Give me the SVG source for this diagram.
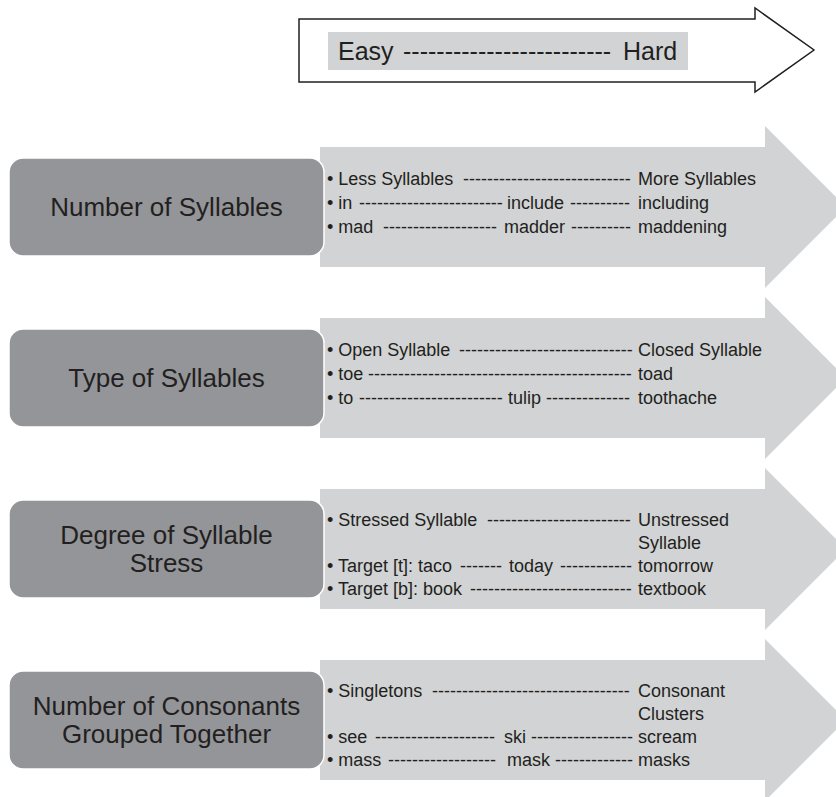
<svg xmlns="http://www.w3.org/2000/svg" width="836" height="797" viewBox="0 0 836 797">
  <style>
    .t { font-family: "Liberation Sans", Arial, Helvetica, sans-serif; fill: #231f20; }
    .hdr { font-size: 26px; text-anchor: middle; }
    .lst { font-size: 18px; }
    .band { fill: #d1d3d4; }
    .box { fill: #939598; stroke: #ffffff; stroke-width: 1.5; }
  </style>

  <rect width="836" height="797" fill="#ffffff"/>

  <!-- difficulty scale -->
  <g id="scale">
    <path d="M299,19 H755 V8 L814,50 L755,92 V82 H299 Z" fill="#ffffff" stroke="#231f20" stroke-width="1.5" stroke-linejoin="miter"/>
    <rect x="328" y="32" width="360" height="38" class="band"/>
    <text class="t" font-size="25" y="60"><tspan x="338">Easy</tspan><tspan x="403">-------------------------</tspan><tspan x="623">Hard</tspan></text>
  </g>

  <!-- row 1 -->
  <g id="number-of-syllables">
    <path class="band" d="M320,147 H765 V126 L846,207 L765,288 V267 H320 Z"/>
    <rect class="box" x="9" y="158" width="315" height="98" rx="14"/>
    <text class="t hdr" x="166.5" y="216">Number of Syllables</text>
    <text class="t lst" y="185"><tspan x="327">• Less Syllables</tspan><tspan x="463">----------------------------</tspan><tspan x="638">More Syllables</tspan></text>
    <text class="t lst" y="209"><tspan x="327">• in</tspan><tspan x="359">------------------------</tspan><tspan x="507">include</tspan><tspan x="570">----------</tspan><tspan x="638">including</tspan></text>
    <text class="t lst" y="233"><tspan x="327">• mad</tspan><tspan x="383">-------------------</tspan><tspan x="504">madder</tspan><tspan x="571">----------</tspan><tspan x="638">maddening</tspan></text>
  </g>

  <!-- row 2 -->
  <g id="type-of-syllables">
    <path class="band" d="M320,318 H765 V297 L846,378 L765,459 V438 H320 Z"/>
    <rect class="box" x="9" y="329" width="315" height="98" rx="14"/>
    <text class="t hdr" x="166.5" y="387">Type of Syllables</text>
    <text class="t lst" y="356"><tspan x="327">• Open Syllable</tspan><tspan x="459">-----------------------------</tspan><tspan x="638">Closed Syllable</tspan></text>
    <text class="t lst" y="380"><tspan x="327">• toe</tspan><tspan x="368">--------------------------------------------</tspan><tspan x="638">toad</tspan></text>
    <text class="t lst" y="404"><tspan x="327">• to</tspan><tspan x="359">------------------------</tspan><tspan x="508">tulip</tspan><tspan x="546">--------------</tspan><tspan x="638">toothache</tspan></text>
  </g>

  <!-- row 3 -->
  <g id="degree-of-syllable-stress">
    <path class="band" d="M320,489 H765 V468 L846,549 L765,630 V609 H320 Z"/>
    <rect class="box" x="9" y="500" width="315" height="98" rx="14"/>
    <text class="t hdr" x="166.5" y="544">Degree of Syllable</text>
    <text class="t hdr" x="166.5" y="572">Stress</text>
    <text class="t lst" y="526"><tspan x="327">• Stressed Syllable</tspan><tspan x="487">------------------------</tspan><tspan x="638">Unstressed</tspan></text>
    <text class="t lst" x="638" y="549">Syllable</text>
    <text class="t lst" y="572"><tspan x="327">• Target [t]: taco</tspan><tspan x="460">-------</tspan><tspan x="509">today</tspan><tspan x="560">------------</tspan><tspan x="638">tomorrow</tspan></text>
    <text class="t lst" y="595"><tspan x="327">• Target [b]: book</tspan><tspan x="470">---------------------------</tspan><tspan x="638">textbook</tspan></text>
  </g>

  <!-- row 4 -->
  <g id="number-of-consonants-grouped">
    <path class="band" d="M320,660 H765 V639 L846,720 L765,801 V780 H320 Z"/>
    <rect class="box" x="9" y="671" width="315" height="98" rx="14"/>
    <text class="t hdr" x="166.5" y="715">Number of Consonants</text>
    <text class="t hdr" x="166.5" y="743">Grouped Together</text>
    <text class="t lst" y="697"><tspan x="327">• Singletons</tspan><tspan x="432">---------------------------------</tspan><tspan x="638">Consonant</tspan></text>
    <text class="t lst" x="638" y="720">Clusters</text>
    <text class="t lst" y="743"><tspan x="327">• see</tspan><tspan x="375">--------------------</tspan><tspan x="504">ski</tspan><tspan x="531">-----------------</tspan><tspan x="638">scream</tspan></text>
    <text class="t lst" y="766"><tspan x="327">• mass</tspan><tspan x="388">------------------</tspan><tspan x="507">mask</tspan><tspan x="555">-------------</tspan><tspan x="638">masks</tspan></text>
  </g>

  <!-- the diagram has no separate connector lines; the banded arrows carry the flow -->
  <g id="connectors"/>
</svg>
